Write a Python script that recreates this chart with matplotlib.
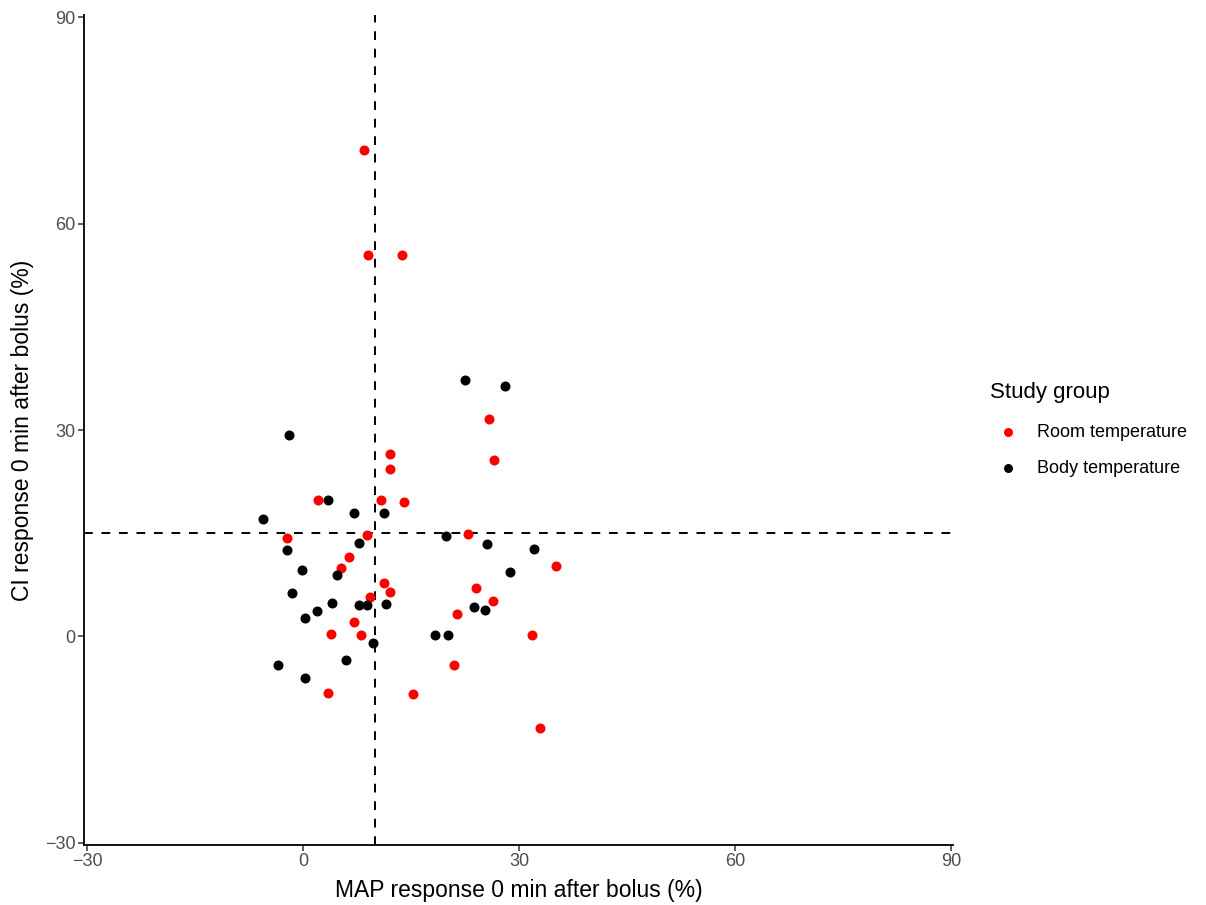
import numpy as np
import matplotlib.pyplot as plt

plt.rcParams['font.family'] = ['Liberation Sans', 'DejaVu Sans']

# Room temperature group (red)
room_map = [25.8, 12.1, 12.0, 26.5, 2.0, 10.8, 14.0, -2.2, 8.8, 22.9,
            6.3, 5.3, 35.1, 11.2, 12.1, 24.0, 9.3, 26.4, 21.3, 7.0,
            3.8, 8.0, 31.8, 21.0, 3.4, 15.2, 8.5, 9.0, 13.7, 32.9]
room_ci = [31.6, 26.5, 24.3, 25.7, 19.9, 19.8, 19.5, 14.3, 14.8, 14.9,
           11.6, 10.0, 10.2, 7.8, 6.5, 7.0, 5.7, 5.2, 3.3, 2.1,
           0.4, 0.2, 0.2, -4.2, -8.2, -8.3, 70.7, 55.4, 55.4, -13.3]

# Body temperature group (black)
body_map = [22.5, 28.0, -2.0, 3.5, 7.0, 11.2, -5.6, 19.9, 7.7, 25.6,
            -2.3, 32.0, -0.2, 28.7, 4.7, -1.5, 4.0, 7.7, 8.8, 11.5,
            23.8, 25.3, 1.9, 0.2, 18.3, 20.1, 9.7, 6.0, -3.5, 0.3]
body_ci = [37.3, 36.4, 29.3, 19.9, 18.0, 17.9, 17.1, 14.6, 13.6, 13.4,
           12.5, 12.7, 9.6, 9.4, 8.9, 6.3, 4.8, 4.5, 4.5, 4.7,
           4.3, 3.8, 3.7, 2.7, 0.2, 0.2, -1.0, -3.4, -4.1, -6.0]

map_cut = 10
ci_cut = 15
ticks = [-30, 0, 30, 60, 90]
tick_labels = ['\u221230', '0', '30', '60', '90']

fig = plt.figure(figsize=(12.06, 9.05), dpi=100)
ax = fig.add_axes([84 / 1206, 60 / 905, (953 - 84) / 1206, (845 - 15) / 905])

ax.axvline(map_cut, color='black', lw=1.4, ls=(0, (4.5, 4.5)), zorder=1)
ax.axhline(ci_cut, color='black', lw=1.4, ls=(0, (4.5, 4.5)), zorder=1)

ax.scatter(room_map, room_ci, s=52, color='#FF0000', lw=0, label='Room temperature', zorder=3)
ax.scatter(body_map, body_ci, s=52, color='black', lw=0, label='Body temperature', zorder=3)

ax.set_xlim(-30.47, 90.3)
ax.set_ylim(-30.3, 90.3)
ax.set_xticks(ticks)
ax.set_yticks(ticks)
ax.set_xticklabels(tick_labels)
ax.set_yticklabels(tick_labels)

for side in ['top', 'right']:
    ax.spines[side].set_visible(False)
for side in ['left', 'bottom']:
    ax.spines[side].set_linewidth(1.3)
ax.tick_params(axis='both', colors='#333333', labelcolor='#4D4D4D', labelsize=13,
               length=4, width=1.1, direction='out', pad=2)

ax.set_xlabel('MAP response 0 min after bolus (%)', fontsize=16.5, labelpad=6)
ax.set_ylabel('CI response 0 min after bolus (%)', fontsize=16.5, labelpad=8)

leg = ax.legend(title='Study group', loc='upper left', bbox_to_anchor=(1.0426, 0.558),
                frameon=False, fontsize=13, title_fontsize=16, markerscale=0.9,
                handlelength=2.0, handletextpad=0.6, labelspacing=1.05,
                borderpad=0, borderaxespad=0)
leg._legend_box.align = 'left'
leg._legend_box.sep = 15

fig.savefig('out.png', dpi=100)
plt.close(fig)
